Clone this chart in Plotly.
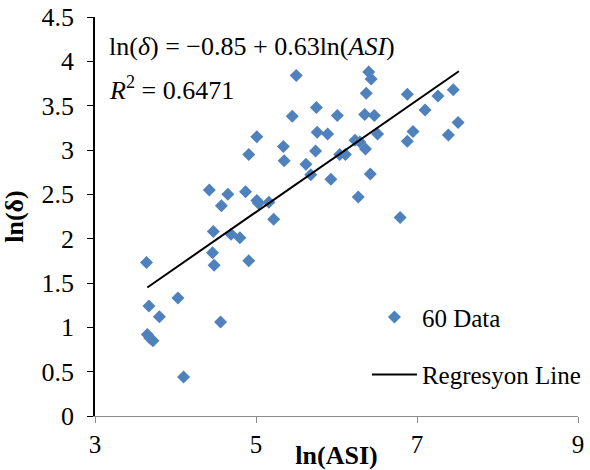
import plotly.graph_objects as go

ln_asi = [3.64, 3.67, 3.65, 3.68, 3.72, 3.80, 4.03, 4.10, 4.42, 4.47, 4.46, 4.48,
          4.57, 4.56, 4.65, 4.69, 4.80, 4.87, 4.91, 4.91, 5.01, 5.01, 5.03, 5.16,
          5.22, 5.34, 5.35, 5.45, 5.50, 5.62, 5.68, 5.74, 5.75, 5.76, 5.89, 5.93,
          6.01, 6.04, 6.11, 6.23, 6.29, 6.27, 6.35, 6.37, 6.40, 6.43, 6.47, 6.36,
          6.42, 6.51, 6.79, 6.88, 6.88, 6.95, 7.10, 7.26, 7.39, 7.45, 7.51]
ln_delta = [1.73, 1.24, 0.92, 0.88, 0.85, 1.12, 1.33, 0.44, 2.55, 2.08, 1.84, 1.70,
            2.37, 1.06, 2.50, 2.05, 2.01, 2.53, 2.95, 1.75, 3.15, 2.43, 2.40, 2.41,
            2.22, 3.04, 2.88, 3.38, 3.84, 2.84, 2.72, 2.99, 3.48, 3.20, 3.18, 2.67,
            3.39, 2.95, 2.95, 3.11, 3.09, 2.47, 3.40, 3.64, 3.88, 3.80, 3.39, 3.01,
            2.73, 3.18, 2.24, 3.63, 3.10, 3.21, 3.45, 3.61, 3.17, 3.68, 3.31]

intercept = -0.85
slope = 0.63
line_x = [3.65, 7.52]
line_y = [intercept + slope * v for v in line_x]

x_ticks = [3, 5, 7, 9]
y_ticks = [0, 0.5, 1, 1.5, 2, 2.5, 3, 3.5, 4, 4.5]

FONT = "Liberation Serif"

fig = go.Figure()
fig.add_trace(go.Scatter(
    x=ln_asi, y=ln_delta, mode="markers", name="60 Data",
    marker=dict(symbol="diamond", size=10, color="#4F81BD"),
    legendgroup="a"))
fig.add_trace(go.Scatter(
    x=line_x, y=line_y, mode="lines", name="Regresyon Line",
    line=dict(color="black", width=2), legendgroup="b"))

fig.update_layout(
    width=590, height=470,
    margin=dict(l=95, r=12, t=17, b=54, autoexpand=False),
    plot_bgcolor="white", paper_bgcolor="white",
    font=dict(family=FONT, size=25, color="black"),
    showlegend=True,
    legend=dict(x=0.563, y=0.305, xanchor="left", yanchor="top",
                bgcolor="rgba(0,0,0,0)", tracegroupgap=22, itemwidth=45,
                font=dict(family=FONT, size=25)),
    xaxis=dict(range=[3, 9], tickvals=x_ticks, showgrid=False, zeroline=False,
               showline=True, linecolor="#8c8c8c", linewidth=1,
               ticks="outside", ticklen=6, tickcolor="#8c8c8c",
               tickfont=dict(family=FONT, size=25), automargin=False,
               title=dict(text="<b>ln(ASI)</b>", font=dict(family=FONT, size=26), standoff=2)),
    yaxis=dict(range=[0, 4.5], tickvals=y_ticks, showgrid=False, zeroline=False,
               showline=True, linecolor="black", linewidth=1.5,
               ticks="outside", ticklen=6, tickcolor="black", ticklabelstandoff=8,
               tickfont=dict(family=FONT, size=26), automargin=False,
               title=dict(text="<b>ln(δ)</b>", font=dict(family=FONT, size=26), standoff=20)),
    annotations=[
        dict(x=0.025, y=0.927, xref="paper", yref="paper", xanchor="left", yanchor="middle",
             showarrow=False, font=dict(family=FONT, size=26),
             text="ln(<i>δ</i>) = −0.85 + 0.63ln(<i>ASI</i>)"),
        dict(x=0.025, y=0.822, xref="paper", yref="paper", xanchor="left", yanchor="middle",
             showarrow=False, font=dict(family=FONT, size=26),
             text="<i>R</i><sup>2</sup> = 0.6471"),
    ],
)

fig.write_html("out.html")
